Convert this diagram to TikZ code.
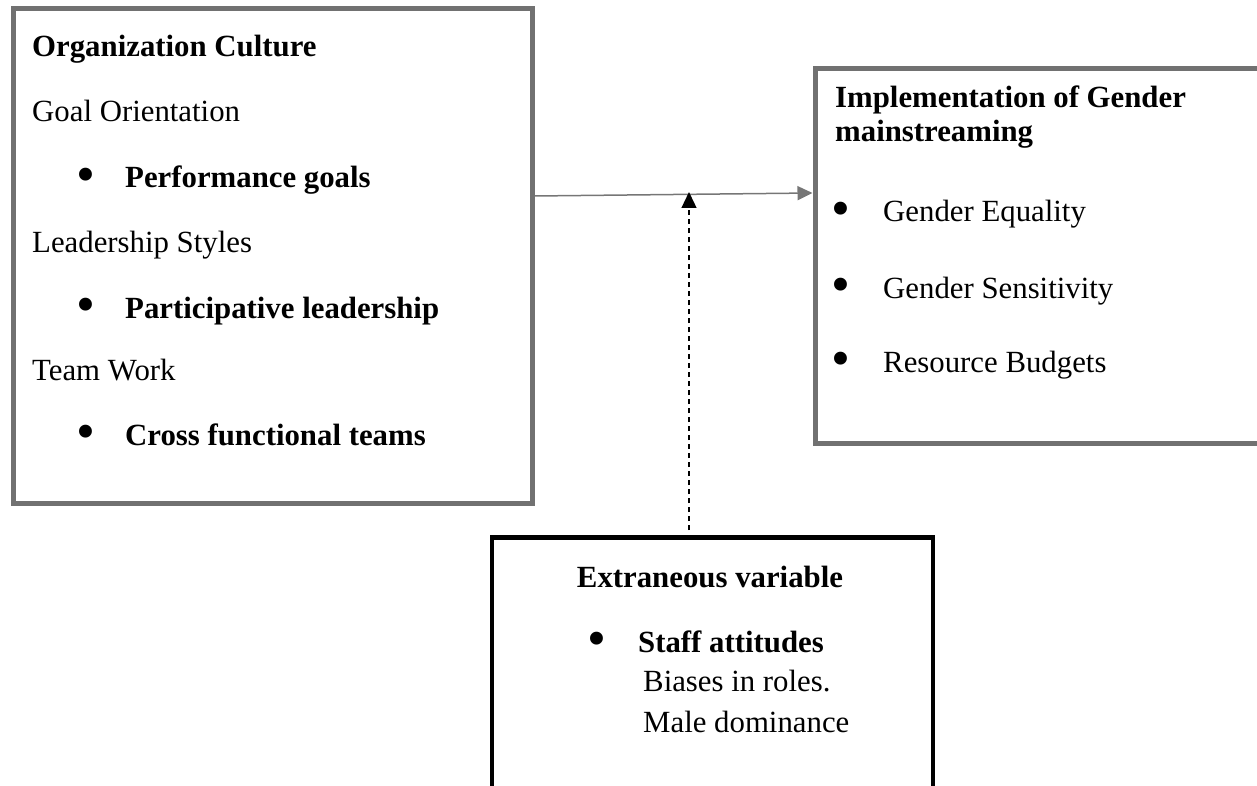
\documentclass[tikz,border=0pt]{standalone}
\usepackage{fontspec}
\setmainfont{Liberation Serif}
\usetikzlibrary{arrows.meta}
\definecolor{framegray}{HTML}{717171}
\definecolor{arrowgray}{HTML}{767676}
\begin{document}
\begin{tikzpicture}[x=1pt,y=-1pt,
  txt/.style={inner sep=0pt, anchor=base west, font=\fontsize{30.8}{37}\selectfont},
  boldtxt/.style={inner sep=0pt, anchor=base west, font=\fontsize{30.8}{37}\selectfont\bfseries},
  bul/.style={inner sep=0pt, anchor=center, font=\fontsize{54}{60}\selectfont},
  grayframe/.style={draw=framegray, line width=5pt, inner sep=0pt, anchor=north west},
  blackframe/.style={draw=black, line width=4.5pt, inner sep=0pt, anchor=north west},
  link/.style={draw=arrowgray, line width=1.5pt, -{Triangle[length=15pt,width=14pt]}},
  moderator/.style={draw=black, line width=1.3pt, dash pattern=on 5pt off 4pt,
    -{Triangle[length=16pt,width=15pt]}}]
\useasboundingbox (0,0) rectangle (1257,786);
\clip (0,0) rectangle (1257,786);

% frames
\node[grayframe, minimum width=519pt, minimum height=494pt] (culture) at (10.5,6.5) {};
\node[grayframe, minimum width=446pt, minimum height=374pt] (impl) at (812.5,66.5) {};
\node[blackframe, minimum width=441pt, minimum height=300pt] (extra) at (489.5,535) {};

% independent variable
\node[boldtxt] (cultureT) at (32,57) {Organization Culture};
\node[txt] (goal) at (32,122) {Goal Orientation};
\node[bul] (b1) at (86,180) {•};
\node[boldtxt] (perf) at (125,188) {Performance goals};
\node[txt] (lead) at (32,252) {Leadership Styles};
\node[bul] (b2) at (86,310) {•};
\node[boldtxt] (part) at (125,318) {Participative leadership};
\node[txt] (team) at (32,380) {Team Work};
\node[bul] (b3) at (86,437) {•};
\node[boldtxt] (cross) at (125,445) {Cross functional teams};

% dependent variable
\node[boldtxt] (implT1) at (835,108) {Implementation of Gender};
\node[boldtxt] (implT2) at (835,142) {mainstreaming};
\node[bul] (b4) at (841,214) {•};
\node[txt] (eq) at (883,222) {Gender Equality};
\node[bul] (b5) at (841,290) {•};
\node[txt] (sens) at (883,298) {Gender Sensitivity};
\node[bul] (b6) at (841,364) {•};
\node[txt] (budg) at (883,372) {Resource Budgets};

% extraneous variable
\node[boldtxt, anchor=base] (extraT) at (710,587) {Extraneous variable};
\node[bul] (b7) at (597,644) {•};
\node[boldtxt] (staff) at (638,652) {Staff attitudes};
\node[txt] (bias) at (643,691) {Biases in roles.};
\node[txt] (male) at (643,732) {Male dominance};

% connectors
\coordinate (ystart) at (0,196);
\coordinate (yend) at (0,193);
\coordinate (tiptop) at (689,192);
\draw[link] (culture.east |- ystart) -- (impl.west |- yend);
\draw[moderator, shorten <=5pt] (extra.north -| tiptop) -- (tiptop);
\end{tikzpicture}
\end{document}
